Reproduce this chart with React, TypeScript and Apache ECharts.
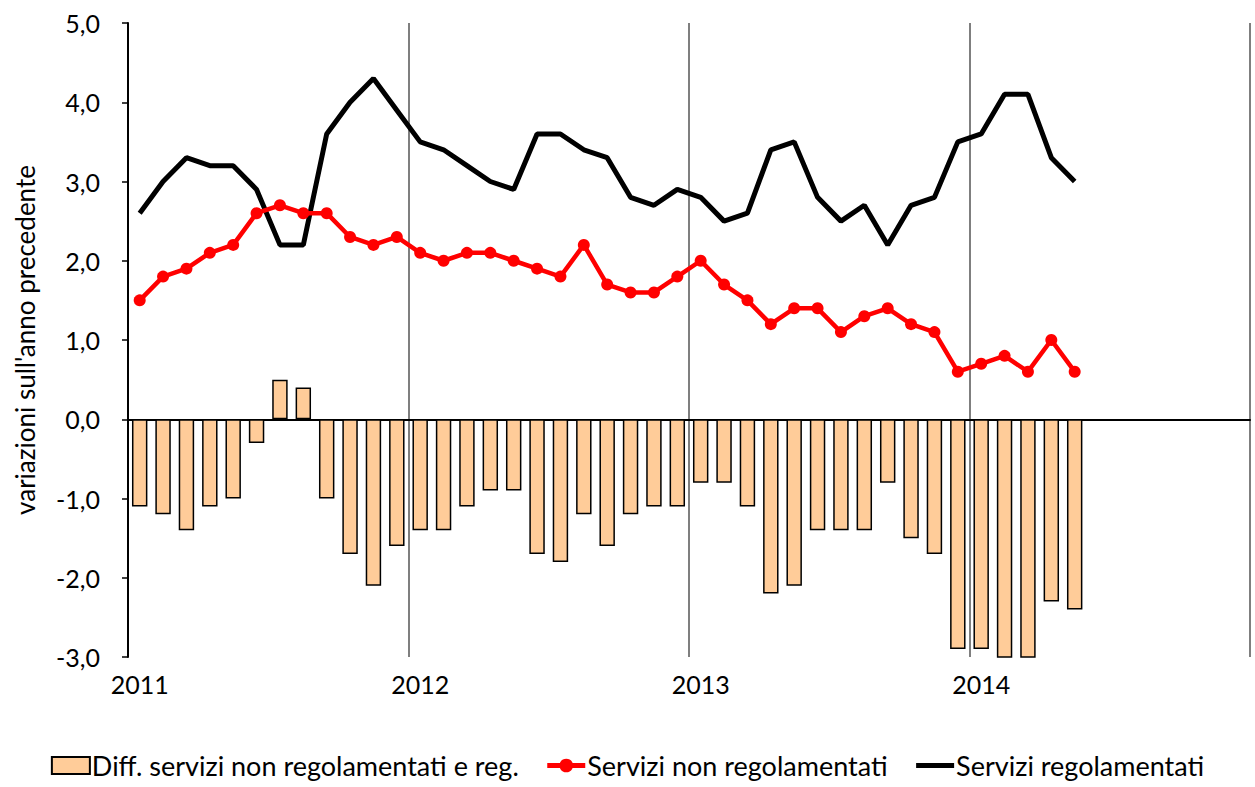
import React, { useEffect, useRef } from "react";
import * as echarts from "echarts";

const years = ["2011", "2012", "2013", "2014"];
const monthNames = ["01", "02", "03", "04", "05", "06", "07", "08", "09", "10", "11", "12"];
const categories: string[] = [];
years.forEach((y) => monthNames.forEach((m) => categories.push(y + "-" + m)));

const regolamentati = [
  2.6, 3.0, 3.3, 3.2, 3.2, 2.9, 2.2, 2.2, 3.6, 4.0, 4.3, 3.9,
  3.5, 3.4, 3.2, 3.0, 2.9, 3.6, 3.6, 3.4, 3.3, 2.8, 2.7, 2.9,
  2.8, 2.5, 2.6, 3.4, 3.5, 2.8, 2.5, 2.7, 2.2, 2.7, 2.8, 3.5,
  3.6, 4.1, 4.1, 3.3, 3.0,
];
const nonRegolamentati = [
  1.5, 1.8, 1.9, 2.1, 2.2, 2.6, 2.7, 2.6, 2.6, 2.3, 2.2, 2.3,
  2.1, 2.0, 2.1, 2.1, 2.0, 1.9, 1.8, 2.2, 1.7, 1.6, 1.6, 1.8,
  2.0, 1.7, 1.5, 1.2, 1.4, 1.4, 1.1, 1.3, 1.4, 1.2, 1.1, 0.6,
  0.7, 0.8, 0.6, 1.0, 0.6,
];
const differenza = [
  -1.1, -1.2, -1.4, -1.1, -1.0, -0.3, 0.5, 0.4, -1.0, -1.7, -2.1, -1.6,
  -1.4, -1.4, -1.1, -0.9, -0.9, -1.7, -1.8, -1.2, -1.6, -1.2, -1.1, -1.1,
  -0.8, -0.8, -1.1, -2.2, -2.1, -1.4, -1.4, -1.4, -0.8, -1.5, -1.7, -2.9,
  -2.9, -3.3, -3.5, -2.3, -2.4,
];

const FONT = "Lato, 'Open Sans', sans-serif";

export default function App() {
  const ref = useRef<HTMLDivElement>(null);
  useEffect(() => {
    if (!ref.current) return;
    const chart = echarts.init(ref.current, undefined, { renderer: "svg" });
    chart.setOption({
      animation: false,
      textStyle: { fontFamily: FONT },
      grid: { left: 128, right: 5, top: 23, bottom: 130, containLabel: false },
      legend: {
        bottom: 3,
        left: "center",
        itemGap: 26,
        itemWidth: 38,
        itemHeight: 17,
        textStyle: { fontSize: 27, color: "#000", fontFamily: FONT, padding: [0, 0, 0, -3] },
        data: [
          { name: "Diff. servizi non regolamentati e reg.", icon: "rect" },
          { name: "Servizi non regolamentati", lineStyle: { width: 5 } },
          {
            name: "Servizi regolamentati",
            lineStyle: { width: 5 },
            itemStyle: { color: "rgba(0,0,0,0)", borderWidth: 0 },
          },
        ],
      },
      xAxis: [
        {
          type: "category",
          data: categories,
          boundaryGap: true,
          axisLine: { onZero: true, lineStyle: { color: "#000", width: 2 } },
          axisTick: { show: false },
          axisLabel: { show: false },
          splitLine: { show: false },
        },
        {
          type: "category",
          data: categories,
          boundaryGap: true,
          position: "bottom",
          axisLine: { show: false, onZero: false },
          axisTick: { show: false },
          axisLabel: {
            show: true,
            interval: (i: number) => i % 12 === 0,
            formatter: (v: string) => v.slice(0, 4),
            fontSize: 25,
            color: "#000",
            margin: 14,
            fontFamily: FONT,
          },
          splitLine: {
            show: true,
            interval: (i: number) => i % 12 === 0 && i > 0,
            lineStyle: { color: "#555", width: 1.5 },
          },
        },
      ],
      yAxis: {
        type: "value",
        min: -3,
        max: 5,
        interval: 1,
        name: "variazioni sull'anno precedente",
        nameLocation: "middle",
        nameGap: 90,
        nameTextStyle: { fontSize: 26, color: "#000", fontFamily: FONT },
        axisLine: { show: true, lineStyle: { color: "#000", width: 2 } },
        axisTick: { show: true, inside: false, length: 6, lineStyle: { color: "#000", width: 1.5 } },
        axisLabel: {
          fontSize: 25,
          color: "#000",
          margin: 28,
          fontFamily: FONT,
          formatter: (v: number) => v.toFixed(1).replace(".", ","),
        },
        splitLine: { show: false },
      },
      series: [
        {
          name: "Diff. servizi non regolamentati e reg.",
          type: "bar",
          xAxisIndex: 0,
          data: differenza,
          barWidth: "66%",
          clip: true,
          itemStyle: { color: "#FFCC99", borderColor: "#000", borderWidth: 1.5 },
          z: 2,
        },
        {
          name: "Servizi non regolamentati",
          type: "line",
          xAxisIndex: 0,
          data: nonRegolamentati,
          symbol: "circle",
          symbolSize: 12,
          lineStyle: { color: "#FF0000", width: 4.5 },
          itemStyle: { color: "#FF0000" },
          z: 4,
        },
        {
          name: "Servizi regolamentati",
          type: "line",
          xAxisIndex: 0,
          data: regolamentati,
          symbol: "none",
          lineStyle: { color: "#000", width: 5 },
          itemStyle: { color: "#000" },
          z: 3,
        },
      ],
    });
    return () => chart.dispose();
  }, []);
  return (
    <div
      ref={ref}
      style={{ position: "absolute", left: 0, top: 0, width: 1255, height: 787 }}
    />
  );
}
